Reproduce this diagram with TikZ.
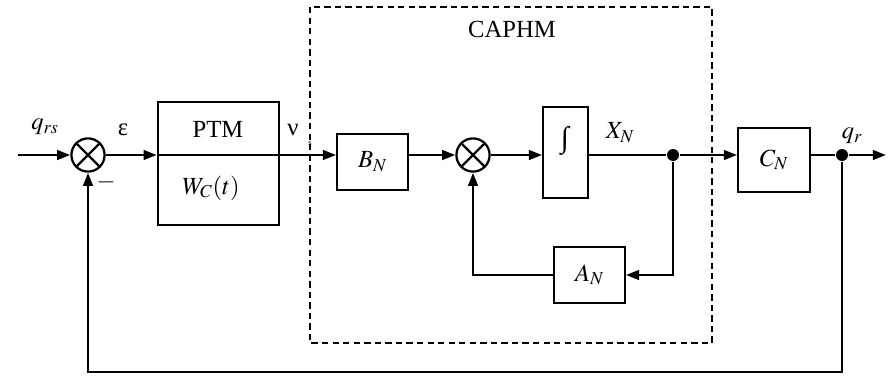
\documentclass[tikz,border=0pt]{standalone}
\usepackage{mathptmx}
\usepackage{fontspec}
\setmainfont{Liberation Serif}
\usetikzlibrary{arrows.meta}

\tikzset{
  blk/.style={draw, line width=1.3pt, inner sep=0pt},
  sumnode/.style={circle, draw, line width=1.6pt, minimum size=0.83cm, inner sep=0pt,
    path picture={\draw[line width=1.6pt]
      (path picture bounding box.north west) -- (path picture bounding box.south east)
      (path picture bounding box.north east) -- (path picture bounding box.south west);}},
  dot/.style={circle, fill, minimum size=0.3cm, inner sep=0pt},
  lbl/.style={inner sep=0pt}
}

\begin{document}
\begin{tikzpicture}[x=0.025cm, y=-0.025cm, >={Triangle[length=3.3mm,width=2.4mm]},
    line width=1.8pt, font=\fontsize{17.5}{20}\selectfont]
    \useasboundingbox (0,0) rectangle (892,375);

    % Summing points
    \node[sumnode] (sumA) at (88,155) {};
    \node[sumnode] (sumB) at (473,155) {};

    % Blocks
    \node[blk, line width=1.8pt, minimum width=3.025cm, minimum height=3.075cm] (ptm) at (218.5,163.5) {};
    \node[lbl] (ptmtxt) at (218,129) {PTM};
    \node[lbl] (wc) at (211,188) {$W_C(t)$};
    \node[blk, minimum width=1.775cm, minimum height=1.4cm] (bn) at (372.5,162) {$B_N$};
    \node[blk, minimum width=1.125cm, minimum height=2.275cm] (integ) at (565.5,152.5) {};
    \node[lbl, font=\fontsize{21}{24}\selectfont] (inttxt) at (565,141) {∫};
    \node[blk, minimum width=1.8cm, minimum height=1.6cm] (cn) at (774,160) {$C_N$};
    \node[blk, minimum width=1.775cm, minimum height=1.4cm] (an) at (589.5,275) {$A_N$};

    % Branch points
    \node[dot] (dotA) at (673,155) {};
    \node[dot] (dotB) at (842,155) {};
    \coordinate (in) at (18,155);
    \coordinate (out) at (886,155);
    \coordinate (fb) at (842,372);

    % Subsystem frame
    \draw[line width=0.8pt, dash pattern=on 4.5pt off 3pt] (310,7) rectangle (712,343);
    \node[lbl] (caphm) at (512,29) {CAPHM};

    % Signal labels
    \node[lbl] (qrs) at (45,127) {$q_{rs}$};
    \node[lbl] (eps) at (123,130) {ε};
    \node[lbl] (nu) at (293,130) {ν};
    \node[lbl, font=\fontsize{6}{7}\selectfont] (nus) at (310,144) {s};
    \node[lbl] (minus) at (106,182) {$-$};
    \node[lbl] (xn) at (620,133) {$X_N$};
    \node[lbl] (qr) at (852,136) {$q_r$};

    % Forward path
    \draw[->] (in) -- (sumA.west);
    \draw[->] (sumA.east) -- (sumA.east -| ptm.west);
    \draw (sumA.east -| ptm.west) -- (sumA.east -| ptm.east);
    \draw[->] (sumA.east -| ptm.east) -- (sumA -| bn.west);
    \draw[->] (sumB -| bn.east) -- (sumB.west);
    \draw[->] (sumB.east) -- (sumB -| integ.west);
    \draw (sumB -| integ.east) -- (dotA);
    \draw[->] (dotA) -- (dotA -| cn.west);
    \draw (dotB -| cn.east) -- (dotB);
    \draw[->] (dotB) -- (out);

    % Feedback loops
    \draw[->] (dotA) |- (an.east);
    \draw[->] (an.west) -| (sumB.south);
    \draw[->] (dotB) -- (fb) -| (sumA.south);
\end{tikzpicture}
\end{document}
